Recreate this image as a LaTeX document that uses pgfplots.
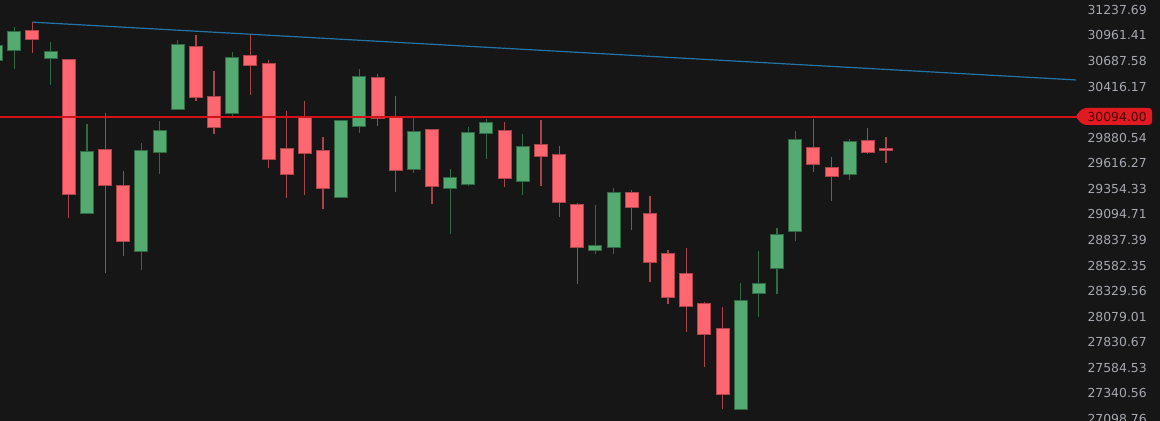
\documentclass[border=0pt]{standalone}
\usepackage{pgfplots}
\pgfplotsset{compat=1.18}
\usepackage{pgfplotstable}
\usepackage{fontspec}
\setmainfont{DejaVu Sans}
\definecolor{bg}{HTML}{161616}
\definecolor{tickgray}{HTML}{A6A8AF}
\definecolor{redfill}{HTML}{FF6770}
\definecolor{redborder}{HTML}{B0434C}
\definecolor{redwick}{HTML}{A8434B}
\definecolor{greenfill}{HTML}{55AA71}
\definecolor{greenborder}{HTML}{2E6A44}
\definecolor{greenwick}{HTML}{2E6A44}
\definecolor{trend}{HTML}{2474A8}
\definecolor{hline}{HTML}{D4121A}
\definecolor{tagred}{HTML}{E01A20}
\definecolor{tagtext}{HTML}{4A0505}

% k = candle index, o h l c = open high low close
\pgfplotstableread{
k o h l c
1 31010.6 31104.7 30777.6 30924.4
3 30702.6 30702.6 29061.7 29305.3
5 29750.9 30135.8 28505.5 29397.1
6 29383.8 29537.5 28680.5 28827.2
10 30838.7 30970.6 30268.4 30307.3
11 30304.2 30582.5 29919.8 29996.0
13 30739.0 30970.6 30331.5 30649.5
14 30660.1 30696.2 29571.4 29664.1
15 29764.4 30156.8 29258.5 29509.9
16 30086.8 30262.0 29289.0 29719.9
17 29740.6 29888.5 29152.9 29363.3
20 30505.0 30550.7 30003.3 30089.9
21 30089.9 30317.8 29322.5 29547.8
23 29958.4 29972.0 29200.6 29383.8
27 29948.0 30041.9 29376.6 29468.9
29 29802.7 30062.7 29386.9 29688.9
30 29705.4 29795.4 29068.7 29220.9
31 29187.4 29213.8 28399.6 28767.3
34 29309.3 29339.8 28940.8 29173.2
35 29096.0 29281.9 28422.4 28614.6
36 28697.5 28734.4 28202.9 28274.5
37 28498.6 28757.4 27929.7 28186.2
38 28205.8 28222.5 27594.6 27913.2
39 27958.9 28173.5 27192.0 27333.9
44 29774.7 30073.2 29524.2 29612.4
45 29565.2 29681.7 29234.1 29483.2
47 29847.1 29982.4 29715.8 29730.3
48 29762.3 29885.4 29622.7 29750.9
}\downdata

\pgfplotstableread{
k o h l c
-1 30699.4 30892.3 30656.9 30852.6
0 30806.6 31053.9 30603.8 31003.1
2 30724.1 30892.3 30437.0 30781.9
4 29112.2 30024.1 29102.0 29736.5
7 28730.4 29823.3 28538.1 29746.8
8 29736.5 30052.3 29509.9 29951.1
9 30184.2 30913.7 30175.7 30860.1
12 30138.9 30785.1 30094.1 30717.6
18 29274.8 30065.9 29264.6 30052.3
19 30003.3 30600.6 29933.4 30518.8
22 29558.0 30094.1 29517.0 29937.5
24 29366.3 29555.0 28900.6 29462.7
25 29404.3 29992.8 29383.8 29933.4
26 29933.4 30076.3 29664.1 30031.4
28 29438.1 29919.8 29292.0 29785.1
32 28740.4 29190.5 28700.5 28774.3
33 28770.3 29363.3 28694.5 29312.4
40 27190.0 28409.5 27188.0 28232.3
41 28310.7 28724.4 28072.6 28399.6
42 28560.9 28958.0 28303.9 28887.5
43 28924.7 29951.1 28824.2 29860.6
46 29509.9 29867.8 29448.4 29833.7
}\updata

% draw candles of one table: #1 table, #2 last row index, #3 wick, #4 border, #5 fill
\newcommand\candles[5]{%
  \pgfplotsforeachungrouped \i in {0,...,#2}{%
    \pgfplotstablegetelem{\i}{k}\of{#1}\let\ck\pgfplotsretval
    \pgfplotstablegetelem{\i}{o}\of{#1}\let\co\pgfplotsretval
    \pgfplotstablegetelem{\i}{h}\of{#1}\let\ch\pgfplotsretval
    \pgfplotstablegetelem{\i}{l}\of{#1}\let\cl\pgfplotsretval
    \pgfplotstablegetelem{\i}{c}\of{#1}\let\cc\pgfplotsretval
    \edef\doplot{%
      \noexpand\addplot[#3, line width=0.9pt, forget plot] coordinates {(\ck,\ch) (\ck,\cl)};
      \noexpand\addplot[#4, line width=10.5pt, shorten <=-0.75pt, shorten >=-0.75pt, forget plot] coordinates {(\ck,\co) (\ck,\cc)};
      \noexpand\addplot[#5, line width=9pt, forget plot] coordinates {(\ck,\co) (\ck,\cc)};
    }%
    \doplot
  }%
}

\begin{document}
\begin{tikzpicture}[x=0.75pt,y=0.75pt]
\path[use as bounding box] (0,0) rectangle (1160,421);
\fill[bg] (0,0) rectangle (1160,421);
\begin{axis}[
  at={(0,0)}, anchor=south west,
  scale only axis, width=807.75pt, height=315.75pt,
  xmin=-0.7875, xmax=58.519,
  % logarithmic price scale, done as a coordinate transformation
  y coord trafo/.code={\pgfmathfloatparsenumber{#1}\pgfmathfloatln{\pgfmathresult}\pgfmathfloattofixed{\pgfmathresult}},
  ymin=27078.4, ymax=31346.5,
  axis line style={draw=none},
  xtick=\empty,
  major tick length=0pt,
  yticklabel pos=right,
  ytick={31237.69,30961.41,30687.58,30416.17,29880.54,29616.27,29354.33,29094.71,28837.39,28582.35,28329.56,28079.01,27830.67,27584.53,27340.56,27098.76},
  yticklabels={31237.69,30961.41,30687.58,30416.17,29880.54,29616.27,29354.33,29094.71,28837.39,28582.35,28329.56,28079.01,27830.67,27584.53,27340.56,27098.76},
  yticklabel style={anchor=east, xshift=52.5pt, inner sep=0pt, text=tickgray, font=\fontsize{9.3}{10}\selectfont},
  clip=true,
]
\addplot[trend, line width=0.9pt, forget plot] coordinates {(1,31104.7) (58.46,30486.7)};
\candles{\downdata}{27}{redwick}{redborder}{redfill}
\candles{\updata}{21}{greenwick}{greenborder}{greenfill}
\addplot[hline, line width=1.1pt, forget plot] coordinates {(-1,30094) (60,30094)};
\end{axis}
% price tag
\fill[tagred, rounded corners=2.5pt] (1075,304.5) -- (1083,313) -- (1152,313) -- (1152,296) -- (1083,296) -- cycle;
\node[anchor=east, inner sep=0pt, text=tagtext, font=\fontsize{9.3}{10}\selectfont] at (1147,304.5) {30094.00};
\end{tikzpicture}
\end{document}
